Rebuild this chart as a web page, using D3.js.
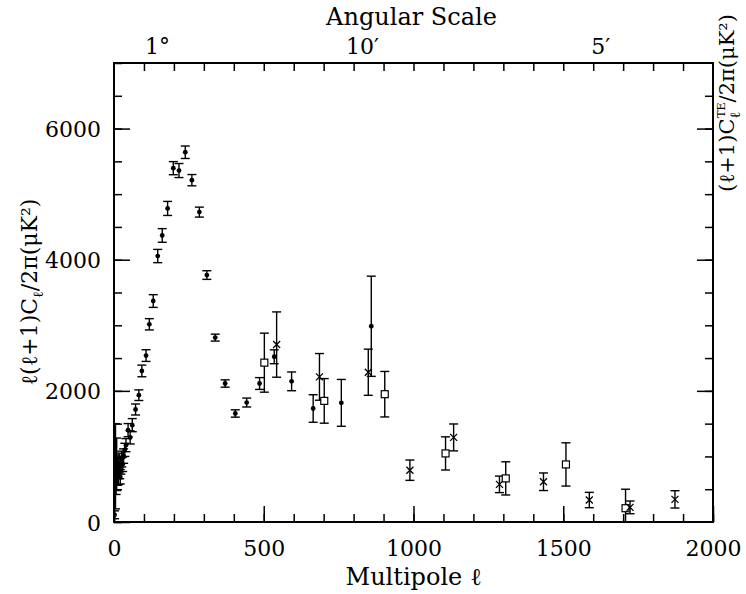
<!DOCTYPE html>
<html>
<head>
<meta charset="utf-8">
<script src="https://cdn.jsdelivr.net/npm/d3@7"></script>
<style>
  body { margin: 0; background: #fff; }
  text { font-family: "DejaVu Serif", serif; fill: #000; }
</style>
</head>
<body>
<div id="chart"></div>
<script>
// [multipole l, value, error]  filled dots
const dotPoints = [
    [2, 110, 60], [4, 600, 110], [5, 850, 650], [7, 720, 300], [9, 880, 400],
    [11, 760, 200], [13, 820, 160], [15, 700, 130], [17, 900, 150], [19, 780, 120],
    [21, 690, 110], [23, 850, 120], [26, 960, 120], [29, 880, 110], [32, 1005, 110],
    [36, 1100, 100], [40, 1172, 100], [47, 1401, 100], [54, 1290, 100], [61, 1477, 100],
    [72, 1716, 84], [83, 1934, 81], [93, 2304, 89], [107, 2538, 89], [118, 3015, 86],
    [131, 3370, 97], [146, 4056, 101], [161, 4370, 104], [179, 4782, 107], [198, 5396, 100],
    [217, 5360, 107], [238, 5639, 95], [260, 5213, 86], [285, 4726, 76], [310, 3766, 66],
    [338, 2812, 53], [371, 2112, 56], [405, 1655, 56], [443, 1822, 68], [486, 2112, 90],
    [535, 2520, 106], [593, 2145, 143], [665, 1731, 210], [759, 1817, 357], [859, 2985, 764]
];
// open squares
const squarePoints = [
    [502, 2430, 450], [702, 1847, 340], [904, 1949, 347], [1107, 1046, 253],
    [1308, 665, 253], [1509, 878, 330], [1708, 210, 290]
];
// crosses
const crossPoints = [
    [543, 2706, 498], [686, 2213, 356], [849, 2284, 352], [988, 790, 155],
    [1134, 1290, 205], [1287, 574, 126], [1434, 614, 134], [1587, 335, 117],
    [1723, 223, 97], [1873, 345, 132]
];

const xMajorTicks = [0, 500, 1000, 1500, 2000];
const yMajorTicks = [0, 2000, 4000, 6000];
const angularAt = [145, 830, 1625];
const angularLabels = ["1°", "10′", "5′"];

const width = 746, height = 594;
const margin = {top: 63, right: 33, bottom: 72, left: 114};
const innerWidth = width - margin.left - margin.right;
const innerHeight = height - margin.top - margin.bottom;

const svg = d3.select("#chart").append("svg")
    .attr("width", width).attr("height", height)
    .style("display", "block");

const chart = svg.append("g")
    .attr("transform", `translate(${margin.left},${margin.top})`);

const x = d3.scaleLinear().domain([0, 2000]).range([0, innerWidth]);
const y = d3.scaleLinear().domain([0, 7000]).range([innerHeight, 0]);

// axes (ticks inward)
function styleAxis(g) {
    g.select(".domain").remove();
    g.selectAll("line").attr("stroke", "#000").attr("stroke-width", 1.5);
    g.selectAll("text").style("font-family", "DejaVu Serif, serif").style("font-size", "22px").attr("fill", "#000");
}
function noLabels(g) {
    g.selectAll("text").remove();
}

chart.append("g").attr("transform", `translate(0,${innerHeight})`)
    .call(d3.axisBottom(x).tickValues(d3.range(0, 2001, 100)).tickSize(-8))
    .call(styleAxis).call(noLabels);
chart.append("g").attr("transform", `translate(0,${innerHeight})`)
    .call(d3.axisBottom(x).tickValues(xMajorTicks).tickSize(-16).tickFormat(d3.format("d")))
    .call(styleAxis)
    .call(g => g.selectAll("text").attr("dy", null).attr("y", 34));

chart.append("g")
    .call(d3.axisTop(x).tickValues(d3.range(100, 2000, 100)).tickSize(-8))
    .call(styleAxis).call(noLabels);

chart.append("g")
    .call(d3.axisLeft(y).tickValues(d3.range(0, 7001, 500)).tickSize(-8))
    .call(styleAxis).call(noLabels);
chart.append("g")
    .call(d3.axisLeft(y).tickValues(yMajorTicks).tickSize(-16).tickFormat(d3.format("d")))
    .call(styleAxis)
    .call(g => g.selectAll("text").attr("dy", null).attr("x", -13).attr("y", 8));

chart.append("g").attr("transform", `translate(${innerWidth},0)`)
    .call(d3.axisRight(y).tickValues(d3.range(500, 7000, 500)).tickSize(-8))
    .call(styleAxis).call(noLabels);
chart.append("g").attr("transform", `translate(${innerWidth},0)`)
    .call(d3.axisRight(y).tickValues([2000, 4000, 6000]).tickSize(-16))
    .call(styleAxis).call(noLabels);

// frame
chart.append("rect")
    .attr("width", innerWidth).attr("height", innerHeight)
    .attr("fill", "none").attr("stroke", "#000").attr("stroke-width", 2);

// clip
svg.append("defs").append("clipPath").attr("id", "clip")
    .append("rect").attr("width", innerWidth).attr("height", innerHeight);
const plot = chart.append("g").attr("clip-path", "url(#clip)");

function errorBars(data) {
    const cap = 4.5;
    const g = plot.append("g").attr("stroke", "#000").attr("stroke-width", 1.4);
    g.selectAll(".v").data(data).join("line")
        .attr("x1", d => x(d[0])).attr("x2", d => x(d[0]))
        .attr("y1", d => y(d[1] - d[2])).attr("y2", d => y(d[1] + d[2]));
    g.selectAll(".top").data(data).join("line")
        .attr("x1", d => x(d[0]) - cap).attr("x2", d => x(d[0]) + cap)
        .attr("y1", d => y(d[1] + d[2])).attr("y2", d => y(d[1] + d[2]));
    g.selectAll(".bot").data(data).join("line")
        .attr("x1", d => x(d[0]) - cap).attr("x2", d => x(d[0]) + cap)
        .attr("y1", d => y(d[1] - d[2])).attr("y2", d => y(d[1] - d[2]));
}

errorBars(dotPoints);
errorBars(squarePoints);
errorBars(crossPoints);

plot.append("g").selectAll("circle").data(dotPoints).join("circle")
    .attr("cx", d => x(d[0])).attr("cy", d => y(d[1])).attr("r", 2.4)
    .attr("fill", "#000");

plot.append("g").selectAll("rect").data(squarePoints).join("rect")
    .attr("x", d => x(d[0]) - 3.5).attr("y", d => y(d[1]) - 3.5)
    .attr("width", 7).attr("height", 7)
    .attr("fill", "#fff").attr("stroke", "#000").attr("stroke-width", 1.2);

plot.append("g").selectAll("path").data(crossPoints).join("path")
    .attr("d", d => {
        const cx = x(d[0]), cy = y(d[1]), s = 3.5;
        return `M${cx - s},${cy - s}L${cx + s},${cy + s}M${cx - s},${cy + s}L${cx + s},${cy - s}`;
    })
    .attr("stroke", "#000").attr("stroke-width", 1.3).attr("fill", "none");

// top angular labels
svg.append("g").selectAll("text").data(angularAt).join("text")
    .attr("x", d => margin.left + x(d)).attr("y", margin.top - 9)
    .attr("text-anchor", "middle").style("font-size", "22px")
    .text((d, i) => angularLabels[i]);

svg.append("text")
    .attr("x", margin.left + x(1000) - 2).attr("y", 25)
    .attr("text-anchor", "middle").style("font-size", "24px")
    .text("Angular Scale");

// x label
svg.append("text")
    .attr("x", margin.left + x(1000)).attr("y", 585)
    .attr("text-anchor", "middle").style("font-size", "24px")
    .text("Multipole ℓ");

// rotated labels: translate(0,height) rotate(-90) keeps local coords positive
// left y label (centre at svg y 292)
const yl = svg.append("text")
    .attr("transform", `translate(0,${height}) rotate(-90)`)
    .attr("x", height - 292).attr("y", 37)
    .attr("text-anchor", "middle").style("font-size", "22px");
yl.append("tspan").text("ℓ(ℓ+1)C");
yl.append("tspan").attr("dy", 6).style("font-size", "14px").text("ℓ");
yl.append("tspan").attr("dy", -6).text("/2π(μK²)");

// right y label (starts at svg y 192, reads upward)
const yr = svg.append("text")
    .attr("transform", `translate(0,${height}) rotate(-90)`)
    .attr("x", height - 192).attr("y", 734)
    .attr("text-anchor", "start").style("font-size", "21px");
yr.append("tspan").text("(ℓ+1)C");
yr.append("tspan").attr("dy", 6).style("font-size", "14px").text("ℓ");
yr.append("tspan").attr("dx", -6).attr("dy", -15).style("font-size", "11px").text("TE");
yr.append("tspan").attr("dy", 9).text("/2π(μK²)");
</script>
</body>
</html>
